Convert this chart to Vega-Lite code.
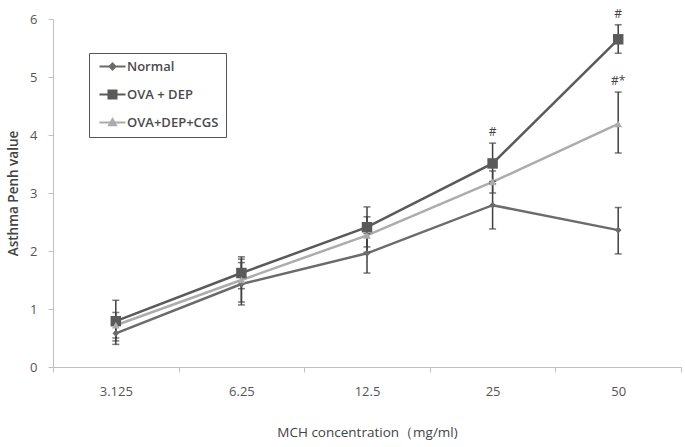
{
  "$schema": "https://vega.github.io/schema/vega-lite/v6.json",
  "autosize": {"type": "none"},
  "padding": {"left": 53, "top": 19, "right": 4, "bottom": 80},
  "width": 628,
  "height": 348,
  "background": "white",
  "config": {
    "view": {"stroke": null},
    "font": "Open Sans",
    "axis": {"grid": false, "domainColor": "#c0c0c0", "tickColor": "#c0c0c0", "labelColor": "#555555", "titleColor": "#444444", "labelFont": "Open Sans", "titleFont": "Open Sans", "labelFontSize": 13, "titleFontSize": 13, "titleFontWeight": "normal"}
  },
  "datasets": {
    "pts": [
      {"series": "Normal", "conc": "3.125", "mean": 0.58, "lo": 0.39, "hi": 0.77},
      {"series": "Normal", "conc": "6.25", "mean": 1.43, "lo": 1.07, "hi": 1.8},
      {"series": "Normal", "conc": "12.5", "mean": 1.96, "lo": 1.62, "hi": 2.3},
      {"series": "Normal", "conc": "25", "mean": 2.79, "lo": 2.38, "hi": 3.2},
      {"series": "Normal", "conc": "50", "mean": 2.36, "lo": 1.95, "hi": 2.75},
      {"series": "OVA + DEP", "conc": "3.125", "mean": 0.79, "lo": 0.45, "hi": 1.15},
      {"series": "OVA + DEP", "conc": "6.25", "mean": 1.62, "lo": 1.35, "hi": 1.9},
      {"series": "OVA + DEP", "conc": "12.5", "mean": 2.41, "lo": 2.07, "hi": 2.76},
      {"series": "OVA + DEP", "conc": "25", "mean": 3.51, "lo": 3.16, "hi": 3.86},
      {"series": "OVA + DEP", "conc": "50", "mean": 5.65, "lo": 5.41, "hi": 5.9},
      {"series": "OVA+DEP+CGS", "conc": "3.125", "mean": 0.72, "lo": 0.5, "hi": 0.94},
      {"series": "OVA+DEP+CGS", "conc": "6.25", "mean": 1.5, "lo": 1.12, "hi": 1.86},
      {"series": "OVA+DEP+CGS", "conc": "12.5", "mean": 2.27, "lo": 1.98, "hi": 2.59},
      {"series": "OVA+DEP+CGS", "conc": "25", "mean": 3.19, "lo": 3.0, "hi": 3.38},
      {"series": "OVA+DEP+CGS", "conc": "50", "mean": 4.19, "lo": 3.69, "hi": 4.74}
    ],
    "notes": [
      {"conc": "25", "y": 3.86, "label": "#"},
      {"conc": "50", "y": 5.9, "label": "#"},
      {"conc": "50", "y": 4.74, "label": "#*"}
    ]
  },
  "layer": [
    {
      "data": {"name": "pts"},
      "mark": {"type": "line", "strokeWidth": 2.5},
      "encoding": {
        "x": {"field": "conc", "type": "nominal", "sort": ["3.125", "6.25", "12.5", "25", "50"],
              "scale": {"type": "band", "paddingInner": 0, "paddingOuter": 0},
              "axis": {"title": "MCH concentration（mg/ml)", "labelAngle": 0, "tickBand": "extent", "tickSize": 5, "labelPadding": 13, "titlePadding": 27, "titleFontSize": 13.5}},
        "y": {"field": "mean", "type": "quantitative", "scale": {"domain": [0, 6], "nice": false},
              "axis": {"title": "Asthma Penh value", "values": [0, 1, 2, 3, 4, 5, 6], "format": "d", "tickSize": 5, "labelPadding": 11, "titlePadding": 9, "titleFontSize": 13.5, "titleFontWeight": 600}},
        "color": {"field": "series", "type": "nominal",
                  "scale": {"domain": ["Normal", "OVA + DEP", "OVA+DEP+CGS"], "range": ["#6b6b6b", "#5a5a5a", "#acacac"]},
                  "legend": {
                    "title": null, "orient": "none", "legendX": 36, "legendY": 34,
                    "strokeColor": "#555555", "padding": 7, "rowPadding": 12,
                    "symbolSize": 100, "symbolStrokeWidth": 2, "symbolOffset": 10, "labelOffset": 8,
                    "labelFontSize": 13, "labelFontWeight": 600, "labelColor": "#4a4a4a", "labelFont": "Open Sans",
                    "encode": {"symbols": {"update": {
                      "shape": {"signal": "datum.value == 'Normal' ? 'M-2.6,0H2.6M0,-0.6L0.6,0L0,0.6L-0.6,0Z' : datum.value == 'OVA + DEP' ? 'M-2.6,0H2.6M-0.8,-0.8H0.8V0.8H-0.8Z' : 'M-2.6,0H2.6M0,-0.7L0.7,0.55H-0.7Z'"},
                      "fill": {"scale": "color", "field": "value"},
                      "stroke": {"scale": "color", "field": "value"},
                      "strokeWidth": {"value": 2}
                    }}}
                  }}
      }
    },
    {
      "data": {"name": "pts"},
      "mark": {"type": "rule", "color": "#404040", "strokeWidth": 1.5},
      "encoding": {
        "x": {"field": "conc", "type": "nominal", "sort": ["3.125", "6.25", "12.5", "25", "50"]},
        "y": {"field": "lo", "type": "quantitative"},
        "y2": {"field": "hi"}
      }
    },
    {
      "data": {"name": "pts"},
      "mark": {"type": "tick", "color": "#404040", "size": 7, "thickness": 1.5},
      "encoding": {
        "x": {"field": "conc", "type": "nominal", "sort": ["3.125", "6.25", "12.5", "25", "50"]},
        "y": {"field": "lo", "type": "quantitative"}
      }
    },
    {
      "data": {"name": "pts"},
      "mark": {"type": "tick", "color": "#404040", "size": 7, "thickness": 1.5},
      "encoding": {
        "x": {"field": "conc", "type": "nominal", "sort": ["3.125", "6.25", "12.5", "25", "50"]},
        "y": {"field": "hi", "type": "quantitative"}
      }
    },
    {
      "data": {"name": "pts"},
      "transform": [{"filter": "datum.series == 'Normal'"}],
      "mark": {"type": "point", "filled": true, "opacity": 1, "shape": "diamond", "size": 45, "color": "#6b6b6b"},
      "encoding": {
        "x": {"field": "conc", "type": "nominal", "sort": ["3.125", "6.25", "12.5", "25", "50"]},
        "y": {"field": "mean", "type": "quantitative"}
      }
    },
    {
      "data": {"name": "pts"},
      "transform": [{"filter": "datum.series == 'OVA + DEP'"}],
      "mark": {"type": "point", "filled": true, "opacity": 1, "shape": "square", "size": 110, "color": "#5a5a5a"},
      "encoding": {
        "x": {"field": "conc", "type": "nominal", "sort": ["3.125", "6.25", "12.5", "25", "50"]},
        "y": {"field": "mean", "type": "quantitative"}
      }
    },
    {
      "data": {"name": "pts"},
      "transform": [{"filter": "datum.series == 'OVA+DEP+CGS'"}],
      "mark": {"type": "point", "filled": true, "opacity": 1, "shape": "triangle-up", "size": 60, "color": "#acacac"},
      "encoding": {
        "x": {"field": "conc", "type": "nominal", "sort": ["3.125", "6.25", "12.5", "25", "50"]},
        "y": {"field": "mean", "type": "quantitative"}
      }
    },
    {
      "data": {"name": "notes"},
      "mark": {"type": "text", "baseline": "bottom", "dy": -4, "fontSize": 12, "color": "#444444", "font": "Open Sans"},
      "encoding": {
        "x": {"field": "conc", "type": "nominal", "sort": ["3.125", "6.25", "12.5", "25", "50"]},
        "y": {"field": "y", "type": "quantitative"},
        "text": {"field": "label"}
      }
    }
  ]
}
